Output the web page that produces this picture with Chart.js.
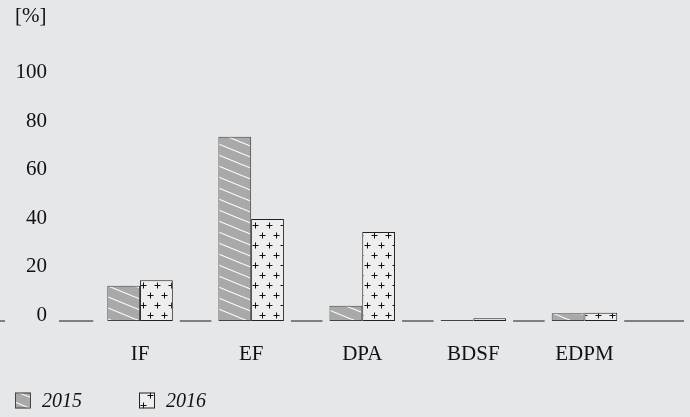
<!DOCTYPE html>
<html><head><meta charset="utf-8">
<script src="https://cdn.jsdelivr.net/npm/chart.js@4"></script>
<style>html,body{margin:0;padding:0;background:#e6e7e9;} canvas{display:block;}</style>
</head><body>
<canvas id="c" width="690" height="417"></canvas>
<script>
const categories = ['IF', 'EF', 'DPA', 'BDSF', 'EDPM'];
const values2015 = [14.5, 76, 6.3, 0.4, 3.2];
const values2016 = [16.8, 42.1, 36.7, 1.1, 3.4];
const seriesLabels = ['2015', '2016'];
const yTicks = [0, 20, 40, 60, 80, 100];
const unitLabel = '[%]';

const FONT = '"Liberation Serif", "DejaVu Serif", serif';
const BG = '#e6e7e9';

function hatchPattern() {
  const W = 27, H = 11;
  const c = document.createElement('canvas'); c.width = W; c.height = H;
  const g = c.getContext('2d');
  g.fillStyle = '#a9a9a9'; g.fillRect(0, 0, W, H);
  g.strokeStyle = '#ffffff'; g.lineWidth = 1.1;
  for (const dy of [-H, 0, H]) { g.beginPath(); g.moveTo(0, dy); g.lineTo(W, dy + H); g.stroke(); }
  return g.createPattern(c, 'repeat');
}
function crossPattern() {
  const W = 14, H = 20;
  const c = document.createElement('canvas'); c.width = W; c.height = H;
  const g = c.getContext('2d');
  g.fillStyle = '#eeeeef'; g.fillRect(0, 0, W, H);
  g.strokeStyle = '#111'; g.lineWidth = 1;
  const cross = (x, y) => { g.beginPath(); g.moveTo(x - 3, y); g.lineTo(x + 3, y); g.moveTo(x, y - 3); g.lineTo(x, y + 3); g.stroke(); };
  cross(3.5, 5.5); cross(10.5, 15.5);
  return g.createPattern(c, 'repeat');
}
const fills = [hatchPattern(), crossPattern()];
const borders = ['#444', '#222'];

const baselinePlugin = {
  id: 'baseline',
  beforeDatasetsDraw(chart) {
    const ctx = chart.ctx, area = chart.chartArea;
    const y = chart.scales.y.getPixelForValue(0);
    const groups = categories.map((_, i) => {
      let l = Infinity, r = -Infinity;
      chart.data.datasets.forEach((d, di) => {
        const el = chart.getDatasetMeta(di).data[i];
        l = Math.min(l, el.x - el.width / 2); r = Math.max(r, el.x + el.width / 2);
      });
      return [l, r];
    });
    const gap = 7;
    const segs = [[0, 5], [59, groups[0][0] - 14]];
    for (let i = 0; i < groups.length; i++) {
      const s = groups[i][1] + gap;
      const e = i < groups.length - 1 ? groups[i + 1][0] - gap : area.right + 44;
      segs.push([s, e]);
    }
    ctx.save();
    ctx.strokeStyle = '#5f5f5f'; ctx.lineWidth = 1.6;
    ctx.beginPath();
    segs.forEach(([s, e]) => { ctx.moveTo(s, y); ctx.lineTo(e, y); });
    ctx.stroke();
    ctx.restore();
  }
};

const decorPlugin = {
  id: 'decor',
  afterDraw(chart) {
    const ctx = chart.ctx;
    ctx.save();
    ctx.fillStyle = '#111';
    ctx.font = '21px ' + FONT;
    ctx.textBaseline = 'middle'; ctx.textAlign = 'left';
    ctx.fillText(unitLabel, 15, 16);
    const xs = [15, 139];
    const cy = 400.5;
    seriesLabels.forEach((lab, i) => {
      const x = xs[i];
      ctx.fillStyle = fills[i];
      ctx.fillRect(x, cy - 8, 16, 16);
      ctx.strokeStyle = borders[i]; ctx.lineWidth = 1;
      ctx.strokeRect(x + 0.5, cy - 7.5, 15, 15);
      ctx.fillStyle = '#111';
      ctx.font = 'italic 20px ' + FONT;
      ctx.fillText(lab, x + 27, cy + 1);
    });
    ctx.restore();
  }
};

new Chart(document.getElementById('c'), {
  type: 'bar',
  data: {
    labels: categories,
    datasets: [
      { label: seriesLabels[0], data: values2015, backgroundColor: fills[0], borderColor: borders[0], borderWidth: 1, borderSkipped: false },
      { label: seriesLabels[1], data: values2016, backgroundColor: fills[1], borderColor: borders[1], borderWidth: 1, borderSkipped: false }
    ]
  },
  options: {
    responsive: false,
    animation: false,
    datasets: { bar: { categoryPercentage: 0.59, barPercentage: 1.0 } },
    layout: { padding: { top: 78.5, left: 0, right: 50, bottom: 50 } },
    plugins: { legend: { display: false }, tooltip: { enabled: false }, title: { display: false } },
    scales: {
      x: {
        grid: { display: false, drawTicks: false },
        border: { display: false },
        ticks: { color: '#111', font: { family: FONT, size: 21 }, padding: 21 },
        afterFit(s) { s.height = 46; }
      },
      y: {
        min: 0, max: 100,
        afterBuildTicks(s) { s.ticks = yTicks.map(v => ({ value: v })); },
        grid: { display: false, drawTicks: false },
        border: { display: false },
        ticks: { color: '#111', font: { family: FONT, size: 21 }, padding: 37.5, labelOffset: -6 },
        afterFit(s) { s.width = 84.5; }
      }
    }
  },
  plugins: [baselinePlugin, decorPlugin]
});
</script>
</body></html>
